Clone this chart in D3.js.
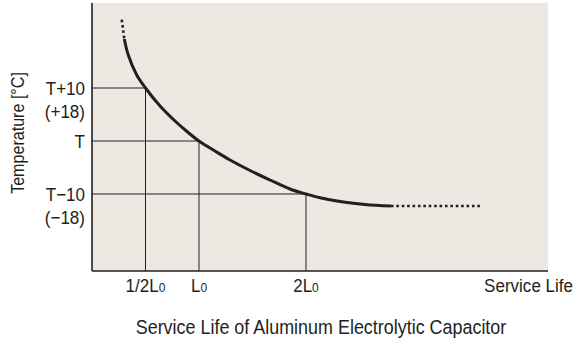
<!DOCTYPE html>
<html>
<head>
<meta charset="utf-8">
<script src="https://cdn.jsdelivr.net/npm/d3@7"></script>
<style>
  html, body { margin: 0; padding: 0; background: #ffffff; }
  svg { display: block; }
  text { font-family: "Liberation Sans", Arial, sans-serif; fill: #231f20; }
</style>
</head>
<body>
<svg id="chart" width="581" height="338"></svg>
<script>
// Service life (multiples of L0) on x, temperature offset from T (°C) on y
const lifeTicks = [0.5, 1, 2];
const lifeTickMain = ["1/2L", "L", "2L"];
const tempTicks = [10, 0, -10];
const tempTickMain = ["T+10", "T", "T\u221210"];
const tempTickSub = ["(+18)", "", "(\u221218)"];

// Curve: measured section (solid)
const curveLife = [0.302, 0.339, 0.418, 0.5, 0.636, 0.776, 0.888, 1, 1.150, 1.290, 1.477, 1.664, 1.851, 2, 2.131, 2.318, 2.551, 2.794];
const curveTemp = [19.25, 16.23, 12.45, 10, 6.60, 3.77, 1.79, 0, -1.89, -3.58, -5.57, -7.36, -9.06, -10, -10.72, -11.43, -11.96, -12.26];
// Extrapolated ends (dotted)
const upperLife = [0.278, 0.302];
const upperTemp = [22.9, 19.25];
const lowerLife = [2.794, 3.63];
const lowerTemp = [-12.26, -12.26];

const svg = d3.select("#chart");
const plot = { left: 92, top: 3, right: 548, bottom: 271 };
const ink = "#231f20";
const squeeze = 0.92; // condensed lettering

const x = d3.scaleLinear().domain([0, 4.262]).range([plot.left, plot.right]);
const y = d3.scaleLinear().domain([-24.53, 26.04]).range([plot.bottom, plot.top]);

// Panel background
svg.append("rect")
  .attr("x", plot.left).attr("y", plot.top)
  .attr("width", plot.right - plot.left).attr("height", plot.bottom - plot.top)
  .attr("fill", "#ece9e2");

// Reference lines from each tick to the curve
const refs = lifeTicks.map((l, i) => ({ life: l, temp: tempTicks[i] }));
svg.append("g").selectAll("line").data(refs).join("line")
  .attr("x1", plot.left).attr("x2", d => x(d.life))
  .attr("y1", d => y(d.temp)).attr("y2", d => y(d.temp))
  .attr("stroke", ink).attr("stroke-width", 1);
svg.append("g").selectAll("line").data(refs).join("line")
  .attr("x1", d => x(d.life)).attr("x2", d => x(d.life))
  .attr("y1", d => y(d.temp)).attr("y2", plot.bottom)
  .attr("stroke", ink).attr("stroke-width", 1);

// Axis lines
const xAxis = d3.axisBottom(x).tickValues(lifeTicks).tickSize(0).tickFormat("");
const yAxis = d3.axisLeft(y).tickValues(tempTicks).tickSize(0).tickFormat("");
const gx = svg.append("g").attr("transform", `translate(0,${plot.bottom})`).call(xAxis);
const gy = svg.append("g").attr("transform", `translate(${plot.left},0)`).call(yAxis);
[gx, gy].forEach(g => g.select(".domain").attr("stroke", ink).attr("stroke-width", 1.6));
gx.select(".domain").attr("d", `M${plot.left},0H${plot.right}`);
gy.select(".domain").attr("d", `M0,${plot.top}V${plot.bottom}`);

// Curve
const zip = (a, b) => a.map((v, i) => [v, b[i]]);
const line = d3.line().x(d => x(d[0])).y(d => y(d[1])).curve(d3.curveCatmullRom.alpha(0.5));
svg.append("path").datum(zip(curveLife, curveTemp)).attr("d", line)
  .attr("fill", "none").attr("stroke", ink).attr("stroke-width", 3);
const dotLine = d3.line().x(d => x(d[0])).y(d => y(d[1]));
[zip(upperLife, upperTemp), zip(lowerLife, lowerTemp)].forEach(seg => {
  svg.append("path").datum(seg).attr("d", dotLine)
    .attr("fill", "none").attr("stroke", ink).attr("stroke-width", 2.6)
    .attr("stroke-dasharray", "2.6,2.8");
});

// Text helper: condensed lettering via horizontal scale
function label(parent, px, py, size, anchor, rot) {
  const r = rot ? ` rotate(${rot})` : "";
  return parent.append("text")
    .attr("transform", `translate(${px},${py})${r} scale(${squeeze},1)`)
    .attr("font-size", size).attr("text-anchor", anchor);
}

// Y tick labels
tempTicks.forEach((t, i) => {
  label(svg, 85, y(t), 18.5, "end").attr("dy", "0.36em").text(tempTickMain[i]);
  if (tempTickSub[i]) {
    label(svg, 85, y(t) + 23, 18.5, "end").attr("dy", "0.36em").text(tempTickSub[i]);
  }
});

// X tick labels with subscript 0
lifeTicks.forEach((l, i) => {
  const t = label(svg, x(l), 292, 18.5, "middle");
  t.append("tspan").text(lifeTickMain[i]);
  t.append("tspan").attr("font-size", 13).text("0");
});
label(svg, 573, 292, 18.5, "end").text("Service Life");

// Axis titles
label(svg, 24, 133, 17.5, "middle", -90).text("Temperature [\u00b0C]");
label(svg, 321, 334, 19.5, "middle").text("Service Life of Aluminum Electrolytic Capacitor");
</script>
</body>
</html>
